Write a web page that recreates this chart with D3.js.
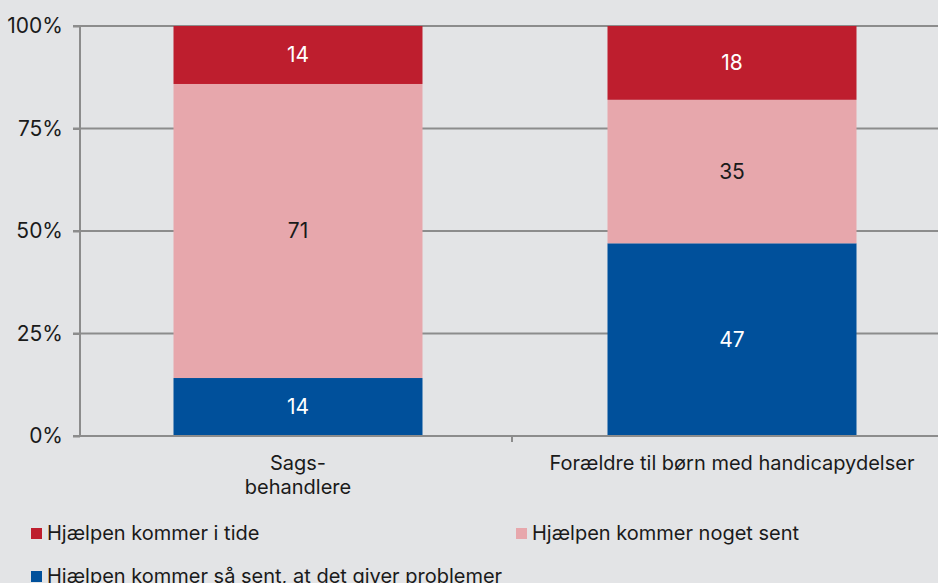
<!DOCTYPE html>
<head>
<meta charset="utf-8">
<script src="https://d3js.org/d3.v7.min.js"></script>
<style>
body { margin: 0; background: #e3e4e6; font-family: Inter, "Noto Sans", sans-serif; }
svg { display: block; }
.grid line { stroke: #8c8c8c; stroke-width: 2px; }
.tick text { fill: #1a1a1a; }
</style>
</head>
<body>
<script>
// data
const categories = [["Sags-", "behandlere"], ["Forældre til børn med handicapydelser"]];
const seriesNames = ["Hjælpen kommer så sent, at det giver problemer", "Hjælpen kommer noget sent", "Hjælpen kommer i tide"];
const tooLate = [14, 47];
const someLate = [71, 35];
const onTime = [14, 18];
const yTicks = [0, 25, 50, 75, 100];

const colors = ["#00509b", "#e7a7ac", "#be1e2e"];
const labelColors = ["#ffffff", "#1a1a1a", "#ffffff"];

const width = 938, height = 583;
const margin = {top: 26, right: -10, bottom: 147, left: 80};

const svg = d3.select('body').append('svg')
  .attr('width', width)
  .attr('height', height);

const x = d3.scaleBand()
  .domain(d3.range(categories.length))
  .range([margin.left, width - margin.right])
  .paddingInner(0.0)
  .paddingOuter(0.0);

const y = d3.scaleLinear()
  .domain([0, 100])
  .range([height - margin.bottom, margin.top]);

// gridlines behind bars
const grid = svg.append('g').attr('class', 'grid');
grid.selectAll('line')
  .data(yTicks)
  .enter().append('line')
    .attr('x1', margin.left - 7)
    .attr('x2', width)
    .attr('y1', d => y(d))
    .attr('y2', d => y(d));

// stack
const rows = categories.map((c, i) => {
  const vals = [tooLate[i], someLate[i], onTime[i]];
  const total = d3.sum(vals);
  return vals.map(v => v / total * 100);
});
const stacked = rows.map(r => {
  let acc = 0;
  return r.map((v, s) => { const y0 = acc; acc += v; return {y0: y0, y1: acc, s: s}; });
});

const barW = 249;
const bars = svg.append('g').selectAll('g')
  .data(stacked)
  .enter().append('g')
    .attr('transform', (d, i) => 'translate(' + (x(i) + x.bandwidth() / 2 - barW / 2 + 1) + ',0)');

bars.selectAll('rect')
  .data(d => d)
  .enter().append('rect')
    .attr('x', 0)
    .attr('width', barW)
    .attr('y', d => y(d.y1))
    .attr('height', d => y(d.y0) - y(d.y1))
    .attr('fill', d => colors[d.s]);

const rawVals = [tooLate, someLate, onTime];
bars.each(function(d, i) {
  d3.select(this).selectAll('text.val')
    .data(d)
    .enter().append('text')
      .attr('class', 'val')
      .attr('x', barW / 2)
      .attr('y', s => (y(s.y0) + y(s.y1)) / 2)
      .attr('dy', '0.35em')
      .attr('text-anchor', 'middle')
      .style('font-size', '21px')
      .attr('fill', s => labelColors[s.s])
      .text(s => rawVals[s.s][i]);
});

// y axis
const yAxis = svg.append('g')
  .attr('transform', 'translate(' + margin.left + ',0)')
  .call(d3.axisLeft(y).tickValues(yTicks).tickFormat(d => d + '%').tickSize(7).tickPadding(10));
yAxis.selectAll('line, path').attr('stroke', '#8c8c8c').attr('stroke-width', 2);
yAxis.select('.domain').attr('d', 'M0,' + y(100) + 'V' + y(0));
yAxis.selectAll('text').style('font-size', '21px').style('font-family', 'Inter, sans-serif');

// x axis
const xAxis = svg.append('g').attr('transform', 'translate(0,' + y(0) + ')');
xAxis.append('line')
  .attr('x1', margin.left).attr('x2', width)
  .attr('stroke', '#8c8c8c').attr('stroke-width', 2);
xAxis.selectAll('line.sep')
  .data(d3.range(1, categories.length))
  .enter().append('line')
    .attr('class', 'sep')
    .attr('x1', d => x(d) - 2).attr('x2', d => x(d) - 2)
    .attr('y1', 0).attr('y2', 6)
    .attr('stroke', '#8c8c8c').attr('stroke-width', 2);

const xLabels = xAxis.selectAll('text')
  .data(categories)
  .enter().append('text')
    .attr('x', (d, i) => x(i) + x.bandwidth() / 2 + 1)
    .attr('y', 34)
    .attr('text-anchor', 'middle')
    .style('font-size', '20px')
    .attr('fill', '#1a1a1a');
xLabels.selectAll('tspan')
  .data(d => d)
  .enter().append('tspan')
    .attr('x', function() { return d3.select(this.parentNode).attr('x'); })
    .attr('dy', (d, j) => j === 0 ? 0 : '1.2em')
    .text(d => d);

// legend
const legendItems = [
  {name: seriesNames[2], color: colors[2], x: 31, y: 533},
  {name: seriesNames[1], color: colors[1], x: 516, y: 533},
  {name: seriesNames[0], color: colors[0], x: 31, y: 576}
];
const legend = svg.append('g').selectAll('g')
  .data(legendItems)
  .enter().append('g')
    .attr('transform', d => 'translate(' + d.x + ',' + d.y + ')');
legend.append('rect')
  .attr('x', 0).attr('y', -5)
  .attr('width', 11).attr('height', 11)
  .attr('fill', d => d.color);
legend.append('text')
  .attr('x', 16)
  .attr('dy', '0.35em')
  .style('font-size', '20px')
  .attr('fill', '#1a1a1a')
  .text(d => d.name);
</script>
</body>
